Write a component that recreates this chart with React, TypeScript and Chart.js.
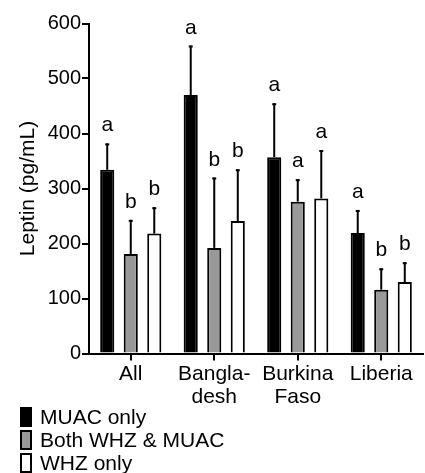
import React, { useEffect, useRef } from "react";
import { Chart, registerables } from "chart.js";
Chart.register(...registerables);

const categories: (string | string[])[] = ["All", ["Bangla-", "desh"], ["Burkina", "Faso"], "Liberia"];
const seriesNames = ["MUAC only", "Both WHZ & MUAC", "WHZ only"];
const muacOnly = [334, 470, 357, 219];
const bothWhzMuac = [181, 192, 276, 116];
const whzOnly = [218, 241, 282, 130];
const muacOnlySD = [48, 90, 98, 42];
const bothWhzMuacSD = [62, 128, 41, 39];
const whzOnlySD = [48, 94, 88, 36];
const muacOnlyLetters = ["a", "a", "a", "a"];
const bothWhzMuacLetters = ["b", "b", "a", "b"];
const whzOnlyLetters = ["b", "b", "a", "b"];
const yMin = 0;
const yMax = 600;
const yStep = 100;

const FONT = "'Liberation Sans', Arial, Helvetica, sans-serif";
const fillColors = ["#000000", "#999999", "#ffffff"];
const sds = [muacOnlySD, bothWhzMuacSD, whzOnlySD];
const letters = [muacOnlyLetters, bothWhzMuacLetters, whzOnlyLetters];

const errorPlugin = {
  id: "errorLetters",
  afterDatasetsDraw(chart: any) {
    const ctx = chart.ctx;
    const yScale = chart.scales.y;
    ctx.save();
    chart.data.datasets.forEach((ds: any, i: number) => {
      const meta = chart.getDatasetMeta(i);
      meta.data.forEach((el: any, j: number) => {
        const v = ds.data[j];
        const top = yScale.getPixelForValue(v + sds[i][j]);
        ctx.strokeStyle = "#000";
        ctx.lineWidth = 2;
        ctx.beginPath();
        ctx.moveTo(el.x, el.y);
        ctx.lineTo(el.x, top);
        ctx.stroke();
        ctx.beginPath();
        ctx.moveTo(el.x - 2, top + 1);
        ctx.lineTo(el.x + 2, top + 1);
        ctx.stroke();
        ctx.fillStyle = "#000";
        ctx.font = `21px ${FONT}`;
        ctx.textAlign = "center";
        ctx.textBaseline = "alphabetic";
        ctx.fillText(letters[i][j], el.x, top - 12);
      });
    });
    ctx.restore();
  },
};

const legendPlugin = {
  id: "vertLegend",
  afterDraw(chart: any) {
    const ctx = chart.ctx;
    ctx.save();
    const startY = chart.height - 66;
    seriesNames.forEach((name, i) => {
      const y = startY + i * 23;
      ctx.fillStyle = fillColors[i];
      ctx.fillRect(20, y, 12, 20);
      ctx.strokeStyle = "#000";
      ctx.lineWidth = 2;
      ctx.strokeRect(21, y + 1, 10, 18);
      ctx.fillStyle = "#000";
      ctx.font = `21px ${FONT}`;
      ctx.textAlign = "left";
      ctx.textBaseline = "middle";
      ctx.fillText(name, 40, y + 11);
    });
    ctx.restore();
  },
};

export default function App() {
  const ref = useRef<HTMLCanvasElement>(null);
  useEffect(() => {
    document.body.style.margin = "0";
    const series = [muacOnly, bothWhzMuac, whzOnly];
    const chart = new Chart(ref.current as HTMLCanvasElement, {
      type: "bar",
      data: {
        labels: categories as any,
        datasets: series.map((d, i) => ({
          label: seriesNames[i],
          data: d,
          backgroundColor: fillColors[i],
          borderColor: "#000",
          borderWidth: 2,
          categoryPercentage: 0.845,
          barPercentage: 0.6,
        })),
      },
      options: {
        animation: false,
        responsive: false,
        maintainAspectRatio: false,
        layout: { padding: { top: 23.5, right: 2, left: 0, bottom: 70 } },
        plugins: { legend: { display: false }, tooltip: { enabled: false } },
        scales: {
          x: {
            grid: {
              display: true,
              drawOnChartArea: false,
              drawTicks: true,
              tickLength: 7,
              color: "#000",
              lineWidth: 2,
              offset: false,
            },
            border: { display: true, color: "#000", width: 2 },
            ticks: {
              color: "#000",
              font: { family: FONT, size: 21, lineHeight: 1.1 },
              padding: 2,
              maxRotation: 0,
              autoSkip: false,
            },
            afterFit: (s: any) => {
              s.height = 49.5;
            },
          },
          y: {
            min: yMin,
            max: yMax,
            grid: {
              display: true,
              drawOnChartArea: false,
              drawTicks: true,
              tickLength: 7,
              color: "#000",
              lineWidth: 2,
            },
            border: { display: true, color: "#000", width: 2 },
            ticks: {
              stepSize: yStep,
              color: "#000",
              font: { family: FONT, size: 20 },
              padding: 1,
            },
            title: {
              display: true,
              text: "Leptin (pg/mL)",
              color: "#000",
              font: { family: FONT, size: 21 },
              padding: { top: 16, bottom: 0 },
            },
            afterFit: (s: any) => {
              s.width = 89;
            },
          },
        },
      },
      plugins: [errorPlugin, legendPlugin],
    });
    return () => chart.destroy();
  }, []);
  return <canvas ref={ref} width={425} height={473} style={{ display: "block" }} />;
}
